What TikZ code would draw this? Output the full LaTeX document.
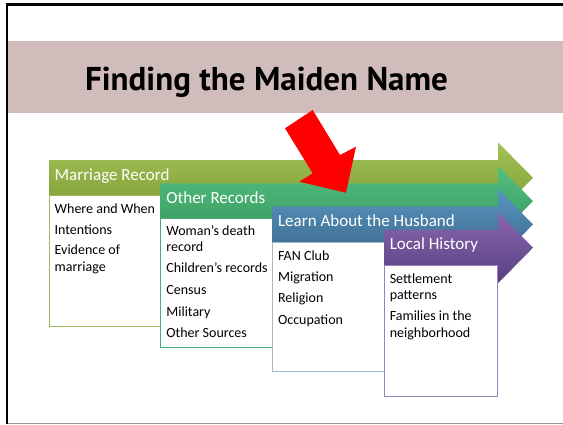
\documentclass[tikz,border=0pt]{standalone}
\usepackage{fontspec}
\setmainfont{Carlito}
\newfontfamily\titlefont{PT Sans}
\definecolor{band}{HTML}{D0BCBB}
\definecolor{gA}{HTML}{A2C455}\definecolor{gB}{HTML}{7F9A37}
\definecolor{tA}{HTML}{52C081}\definecolor{tB}{HTML}{39975D}
\definecolor{bA}{HTML}{5895C0}\definecolor{bB}{HTML}{3B6788}
\definecolor{pA}{HTML}{8A67B0}\definecolor{pB}{HTML}{583F80}
\definecolor{gL}{HTML}{9BBB59}\definecolor{tL}{HTML}{4BAE78}
\definecolor{bL}{HTML}{A3BACD}\definecolor{pL}{HTML}{9583BE}
\begin{document}
\begin{tikzpicture}[x=1pt,y=-1pt,
  hdr/.style={font=\fontsize{17}{20}\selectfont, text=white, anchor=base west, inner sep=0pt},
  body/.style={font=\fontsize{14}{16}\selectfont, text=black, anchor=base west, inner sep=0pt},
  boxst/.style={line width=0.9pt, fill=white},
  titlest/.style={font=\titlefont\bfseries\fontsize{33}{40}\selectfont, anchor=base, inner sep=0pt}]
\useasboundingbox (0,0) rectangle (563,424);
\fill[white] (0,0) rectangle (563,424);
% slide frame and title band
\fill[band] (8,41) rectangle (563,113);
\draw[black, line width=2.3pt] (563,4.5) -- (7,4.5) -- (7,424);
\draw[gray!80, line width=1.4pt] (8,423.2) -- (563,423.2);
\node[titlest] (title) at (266.5,90) {Finding the Maiden Name};
% arrow 1
\shade[top color=gA, bottom color=gB] (49,160) -- (498,160) -- (498,142.3) -- (533,177.8) -- (498,213.3) -- (498,195.5) -- (49,195.5) -- cycle;
\draw[boxst, draw=gL] (49,195.5) rectangle (162,326.7);
\node[hdr] (h1) at (54.5,180.5) {Marriage Record};
\node[body] (a1) at (54.5,213.5) {Where and When};
\node[body] (a2) at (54.5,234) {Intentions};
\node[body] (a3) at (54.5,254.5) {Evidence of};
\node[body] (a4) at (54.5,271) {marriage};
% arrow 2
\shade[top color=tA, bottom color=tB] (160.7,183.3) -- (498,183.3) -- (498,165.6) -- (533,201.1) -- (498,236.6) -- (498,218.8) -- (160.7,218.8) -- cycle;
\draw[boxst, draw=tL] (160.7,218.8) rectangle (273.3,347.3);
\node[hdr] (h2) at (166.2,203.3) {Other Records};
\node[body] (b1) at (166.2,235) {Woman’s death};
\node[body] (b2) at (166.2,251.5) {record};
\node[body] (b3) at (166.2,272.8) {Children’s records};
\node[body] (b4) at (166.2,294.5) {Census};
\node[body] (b5) at (166.2,316) {Military};
\node[body] (b6) at (166.2,337.5) {Other Sources};
% arrow 3
\shade[top color=bA, bottom color=bB] (272.4,206.6) -- (498,206.6) -- (498,188.9) -- (533,224.4) -- (498,259.9) -- (498,242.1) -- (272.4,242.1) -- cycle;
\draw[boxst, draw=bL] (272.4,242.1) rectangle (385,371.7);
\node[hdr] (h3) at (277.9,226.6) {Learn About the Husband};
\node[body] (c1) at (277.9,260) {FAN Club};
\node[body] (c2) at (277.9,281) {Migration};
\node[body] (c3) at (277.9,302.5) {Religion};
\node[body] (c4) at (277.9,324) {Occupation};
% arrow 4
\shade[top color=pA, bottom color=pB] (384.1,229.9) -- (498,229.9) -- (498,212.2) -- (533,247.7) -- (498,283.2) -- (498,265.4) -- (384.1,265.4) -- cycle;
\draw[boxst, draw=pL] (384.1,265.4) rectangle (497.7,396.7);
\node[hdr] (h4) at (389.6,249.9) {Local History};
\node[body] (d1) at (389.6,283) {Settlement};
\node[body] (d2) at (389.6,299.5) {patterns};
\node[body] (d3) at (389.6,320.5) {Families in the};
\node[body] (d4) at (389.6,337) {neighborhood};
% red pointer arrow
\fill[red] (285,128.3) -- (312.7,110) -- (340,155) -- (356,146.7) -- (346,192.7) -- (299.3,181.7) -- (312.7,173.3) -- cycle;
\end{tikzpicture}
\end{document}
